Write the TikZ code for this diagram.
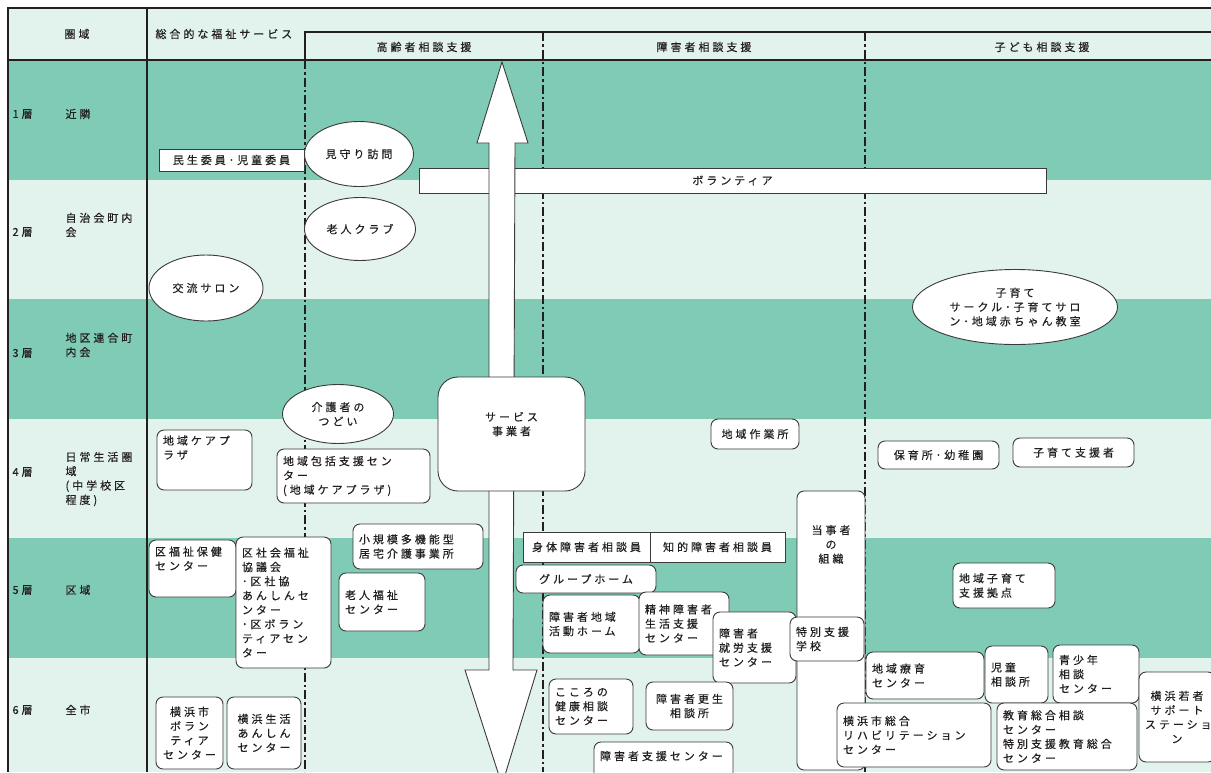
\documentclass[tikz,border=0pt]{standalone}
\usepackage{fontspec}
\setmainfont{Noto Sans CJK JP}[LetterSpace=27,FakeBold=0.4]
\usetikzlibrary{shapes.geometric}
\definecolor{dk}{HTML}{80CBB5}
\definecolor{lt}{HTML}{E2F3ED}
\definecolor{bd}{HTML}{3A3A3A}
\definecolor{tx}{HTML}{231F20}
\newlength\bw \newlength\bh \newlength\tw
% [style]{name}{x1}{y1}{x2}{y2}{align}{text}
\newcommand\RB[8][rb]{%
  \setlength\bw{\dimexpr#5pt-#3pt\relax}%
  \setlength\bh{\dimexpr#6pt-#4pt\relax}%
  \setlength\tw{\dimexpr\bw-12pt\relax}%
  \node[#1, minimum width=\bw, minimum height=\bh, text width=\tw, align=#7] (#2) at ({(#3+#5)/2},{(#4+#6)/2}) {#8};}
% [style]{name}{x1}{y1}{x2}{y2}{gap}{text}  (top aligned)
\newcommand\RBT[8][rb]{%
  \setlength\bw{\dimexpr#5pt-#3pt\relax}%
  \setlength\bh{\dimexpr#6pt-#4pt\relax}%
  \setlength\tw{\dimexpr\bw-12pt\relax}%
  \node[#1, inner ysep=0pt, minimum width=\bw, minimum height=\bh] (#2) at ({(#3+#5)/2},{(#4+#6)/2}) {\parbox[c][\bh][t]{\tw}{\vspace*{#7}#8}};}
\begin{document}
\begin{tikzpicture}[x=1pt,y=-1pt,
  every node/.style={font=\fontsize{11pt}{14.3pt}\selectfont, text=tx},
  rb/.style={draw=bd, fill=white, rounded corners=7pt, line width=0.9pt, inner xsep=6pt, inner ysep=2pt},
  sb/.style={rb, sharp corners},
  ell/.style={ellipse, draw=bd, fill=white, line width=0.9pt, inner sep=0pt, align=center},
  frame/.style={line width=2pt, draw=tx},
  dd/.style={line width=1.5pt, draw=tx, dash pattern=on 9pt off 3pt on 2.5pt off 3pt},
  lbl/.style={anchor=west, align=left}]
\useasboundingbox (0,0) rectangle (1211,772);
% background bands
\fill[white] (0,0) rectangle (1211,772);
\fill[lt] (8,8) rectangle (1211,772);
\fill[dk] (8,60) rectangle (1211,180);
\fill[dk] (8,299) rectangle (1211,419);
\fill[dk] (8,538) rectangle (1211,658);
% frame
\draw[frame] (1211,8) -- (8,8) -- (8,772);
\draw[frame] (8,60) -- (1211,60);
\draw[frame] (147,8) -- (147,772);
\draw[frame] (305,60) -- (305,32) -- (1211,32);
\draw[dd] (305,60) -- (305,772);
\draw[dd] (543,32) -- (543,772);
\draw[dd] (865,32) -- (865,772);
% headers
\node (h0) at (77,34) {圏域};
\node[anchor=west] (h1) at (152,34) {総合的な福祉サービス};
\node (h2) at (424,47) {高齢者相談支援};
\node (h3) at (704,47) {障害者相談支援};
\node (h4) at (1042,47) {子ども相談支援};
% row labels
\node[lbl] (r1) at (9,114) {1層};
\node[lbl] (n1) at (62,114) {近隣};
\node[lbl] (r2) at (9,232) {2層};
\node[lbl] (n2) at (62,225) {自治会町内\\会};
\node[lbl] (r3) at (9,353) {3層};
\node[lbl] (n3) at (62,345) {地区連合町\\内会};
\node[lbl] (r4) at (9,472) {4層};
\node[lbl] (n4) at (62,479) {日常生活圏\\域\\(中学校区\\程度)};
\node[lbl] (r5) at (9,590) {5層};
\node[lbl] (n5) at (62,590) {区域};
\node[lbl] (r6) at (9,710) {6層};
\node[lbl] (n6) at (62,710) {全市};
% volunteer bar
\RB[sb]{vol}{419}{168}{1046}{193}{center}{ボランティア}
% big double arrow
\draw[draw=bd, fill=white, line width=0.9pt] (502,62) -- (528,143) -- (515,143) -- (513,670) -- (537,670) -- (502,785) -- (465,670) -- (489,670) -- (489,143) -- (477,143) -- cycle;
% rectangles
\RB[sb]{minsei}{159}{149}{304}{171}{center}{民生委員･児童委員}
% ellipses
\node[ell, minimum width=109pt, minimum height=65pt] (mimamori) at (359,154) {見守り訪問};
\node[ell, minimum width=111pt, minimum height=63pt] (roujin) at (360,229) {老人クラブ};
\node[ell, minimum width=114pt, minimum height=66pt] (salon) at (206,288) {交流サロン};
\node[ell, minimum width=205pt, minimum height=75pt] (kosodate) at (1015,307) {子育て\\サークル･子育てサロ\\ン･地域赤ちゃん教室};
\node[ell, minimum width=111pt, minimum height=59pt] (kaigo) at (338,414) {介護者の\\つどい};
% boxes
\RBT{kcp}{157}{430}{252}{490}{5.5pt}{\raggedright 地域ケアプ\\ラザ}
\RB{hokatsu}{277}{449}{430}{503}{left}{地域包括支援セン\\ター\\(地域ケアプラザ)}
\RBT[rb, rounded corners=20pt]{jigyo}{438}{377}{585}{491}{35pt}{\centering サービス\\事業者}
\RB{sagyo}{711}{419}{799}{449}{center}{地域作業所}
\RB{hoiku}{878}{441}{999}{469}{center}{保育所･幼稚園}
\RB{shien}{1013}{438}{1134}{467}{center}{子育て支援者}
\RB{shokibo}{353}{524}{483}{569}{left}{小規模多機能型\\居宅介護事業所}
\RB[sb]{shintai}{523}{532}{650}{562}{center}{身体障害者相談員}
\RB[sb]{chiteki}{650}{532}{785}{562}{center}{知的障害者相談員}
\RB{group}{516}{565}{656}{593}{center}{グループホーム}
\RB{katsudo}{543}{595}{640}{653}{left}{障害者地域\\活動ホーム}
\RB{seishin}{639}{592}{729}{655}{left}{精神障害者\\生活支援\\センター}
\RBT{touji}{797}{491}{865}{770}{34pt}{\centering 当事者\\の\\組織}
\RB{shuro}{713}{612}{796}{683}{left}{障害者\\就労支援\\センター}
\RB{tokubetsu}{790}{617}{864}{661}{left}{特別支援\\学校}
\RBT{kufuku}{149}{540}{236}{597}{6.5pt}{\raggedright 区福祉保健\\センター}
\RB{kushakyo}{236}{537}{331}{668}{left}{区社会福祉\\協議会\\･区社協\\あんしんセ\\ンター\\･区ボラン\\ティアセン\\ター}
\RB{roufuku}{339}{573}{425}{631}{left}{老人福祉\\センター}
\RB{kyoten}{953}{563}{1055}{608}{left}{地域子育て\\支援拠点}
\RB{ryoiku}{866}{652}{984}{699}{left}{地域療育\\センター}
\RB{jido}{985}{646}{1048}{703}{left}{児童\\相談所}
\RB{seishonen}{1053}{645}{1139}{703}{left}{青少年\\相談\\センター}
\RB{wakamono}{1139}{672}{1215}{762}{center}{横浜若者\\サポート\\ステーショ\\ン}
\RB{riha}{837}{703}{991}{767}{left}{横浜市総合\\リハビリテーション\\センター}
\RB{kyoiku}{997}{703}{1137}{770}{left}{教育総合相談\\センター\\特別支援教育総合\\センター}
\RB{yvol}{156}{697}{223}{769}{center}{横浜市\\ボラン\\ティア\\センター}
\RB{yseikatsu}{227}{697}{301}{769}{center}{横浜生活\\あんしん\\センター}
\RB{kokoro}{549}{679}{633}{734}{left}{こころの\\健康相談\\センター}
\RB{kosei}{646}{682}{733}{730}{center}{障害者更生\\相談所}
\RBT{shiencenter}{594}{742}{733}{790}{9pt}{\raggedright 障害者支援センター}
\end{tikzpicture}
\end{document}
